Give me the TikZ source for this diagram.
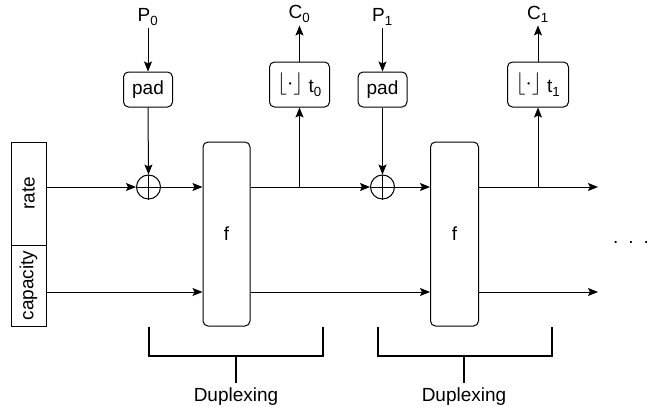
\documentclass[tikz,border=0pt]{standalone}
\usepackage{fontspec}
\setmainfont{Liberation Sans}
\usetikzlibrary{arrows.meta}
\newcommand{\flr}{\raisebox{3pt}{\scalebox{1.3}{$\lfloor\cdot\rfloor$}}}
\begin{document}
\begin{tikzpicture}[x=1pt,y=-1pt,
  every node/.style={font=\fontsize{19}{21}\selectfont, inner sep=0pt},
  box/.style={draw, rounded corners=5pt, line width=1pt},
  sq/.style={draw, line width=1pt},
  arr/.style={line width=1pt, -{Stealth[length=10pt,width=8pt,inset=2pt]}},
  ln/.style={line width=1pt},
  brk/.style={line width=2pt},
  xor/.style={draw, circle, minimum size=24pt, line width=1pt},
  lbl/.style={inner sep=3pt}
]
\useasboundingbox (0,0) rectangle (649,407);

% state boxes
\node[sq, rotate=90, minimum width=103pt, minimum height=35pt] (rate) at (28.5,193.5) {rate};
\node[sq, rotate=90, minimum width=81pt, minimum height=35pt] (cap) at (28.5,285.5) {capacity};

\coordinate (cy) at (0,292);
\coordinate (ry) at (0,187);

% first duplexing
\node[lbl] (P0) at (148,17) {P\textsubscript{0}};
\node[box, minimum width=49pt, minimum height=35pt] (pad0) at (148,89.5) {pad};
\node[xor] (x0) at (148.5,187) {};
\draw[ln] (x0.north) -- (x0.south) (x0.west) -- (x0.east);
\node[box, minimum width=47pt, minimum height=184pt] (f0) at (226.5,234) {f};
\node[box, minimum width=60pt, minimum height=45pt] (t0) at (299.5,84.5) {\flr\ t\textsubscript{0}};
\node[lbl] (C0) at (299.5,14) {C\textsubscript{0}};

% second duplexing
\node[lbl] (P1) at (382.5,17) {P\textsubscript{1}};
\node[box, minimum width=49pt, minimum height=35pt] (pad1) at (382.5,89.5) {pad};
\node[xor] (x1) at (382.5,187) {};
\draw[ln] (x1.north) -- (x1.south) (x1.west) -- (x1.east);
\node[box, minimum width=48pt, minimum height=184pt] (f1) at (454.5,234) {f};
\node[box, minimum width=61pt, minimum height=45pt] (t1) at (538,84.5) {\flr\ t\textsubscript{1}};
\node[lbl] (C1) at (538,14) {C\textsubscript{1}};

\coordinate (outr) at (598,187);
\coordinate (outc) at (598,292);

% connectors
\draw[arr] (rate.south |- ry) -- (x0.west);
\draw[arr] (cap.south |- cy) -- (f0.west |- cy);
\draw[arr] (P0) -- (pad0.north);
\draw[arr] (pad0.south) -- (x0.north);
\draw[arr] (x0.east) -- (f0.west |- ry);
\draw[arr] (f0.east |- ry) -- (x1.west);
\draw[arr] (t0.south |- ry) -- (t0.south);
\draw[arr] (t0.north) -- (C0);
\draw[arr] (f0.east |- cy) -- (f1.west |- cy);

\draw[arr] (P1) -- (pad1.north);
\draw[arr] (pad1.south) -- (x1.north);
\draw[arr] (x1.east) -- (f1.west |- ry);
\draw[arr] (f1.east |- ry) -- (outr);
\draw[arr] (t1.south |- ry) -- (t1.south);
\draw[arr] (t1.north) -- (C1);
\draw[arr] (f1.east |- cy) -- (outc);

% dots
\node (dots) at (631,242) {.\hspace{10pt}.\hspace{10pt}.};

% brackets
\draw[brk] (149,327) |- (323,356) -- (323,327);
\draw[brk] (236,356) -- (236,383);
\node (d0) at (236,397) {Duplexing};
\draw[brk] (378,327) |- (552,356) -- (552,327);
\draw[brk] (464,356) -- (464,383);
\node (d1) at (464,397) {Duplexing};
\end{tikzpicture}
\end{document}
